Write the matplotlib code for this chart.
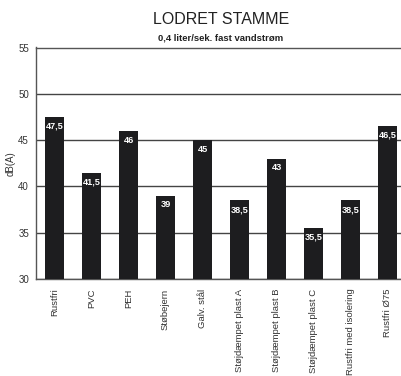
import matplotlib
matplotlib.use("Agg")
import matplotlib.pyplot as plt

plt.rcParams['font.family'] = ['Liberation Sans', 'DejaVu Sans']

materialer = ['Rustfri', 'PVC', 'PEH', 'Støbejern', 'Galv. stål',
              'Støjdæmpet plast A', 'Støjdæmpet plast B', 'Støjdæmpet plast C',
              'Rustfri med isolering', 'Rustfri Ø75']
db_vaerdier = [47.5, 41.5, 46, 39, 45, 38.5, 43, 35.5, 38.5, 46.5]
etiketter = ['47,5', '41,5', '46', '39', '45', '38,5', '43', '35,5', '38,5', '46,5']

fig = plt.figure(figsize=(4.01, 3.76), dpi=100)
ax = fig.add_axes([36 / 401, 1 - 279 / 376, 370 / 401, 231.5 / 376])

x = range(len(materialer))
ax.bar(x, db_vaerdier, width=19 / 37, color='#1d1d1f', zorder=3)

ax.set_xlim(-0.5, 9.5)
ax.set_ylim(30, 55)
ax.set_yticks([30, 35, 40, 45, 50, 55])
ax.yaxis.grid(True, color='#444444', linewidth=1.0, zorder=1)
ax.tick_params(axis='both', length=0, labelsize=7, colors='#333333')
ax.tick_params(axis='y', pad=5)
ax.tick_params(axis='x', pad=7, labelsize=6.8)
ax.set_xticks(list(x))
ax.set_xticklabels(materialer, rotation=90, va='top')
for s in ax.spines.values():
    s.set_color('#555555')
    s.set_linewidth(1.0)

ax.set_ylabel('dB(A)', fontsize=7, color='#333333', labelpad=2)

# værdier skrevet i toppen af søjlerne
for i, (v, t) in enumerate(zip(db_vaerdier, etiketter)):
    ax.text(i, v - 1.0, t, ha='center', va='center', color='white',
            fontsize=6.6, fontweight='bold',
            family=['Liberation Sans Narrow', 'Liberation Sans'], zorder=4)

fig.text(221 / 401, 1 - 19 / 376, 'LODRET STAMME', ha='center', va='center',
         fontsize=11.5, color='#222222')
fig.text(221 / 401, 1 - 38 / 376, '0,4 liter/sek. fast vandstrøm', ha='center',
         va='center', fontsize=6.8, fontweight='bold', color='#222222')

fig.savefig('out.png', dpi=100)
